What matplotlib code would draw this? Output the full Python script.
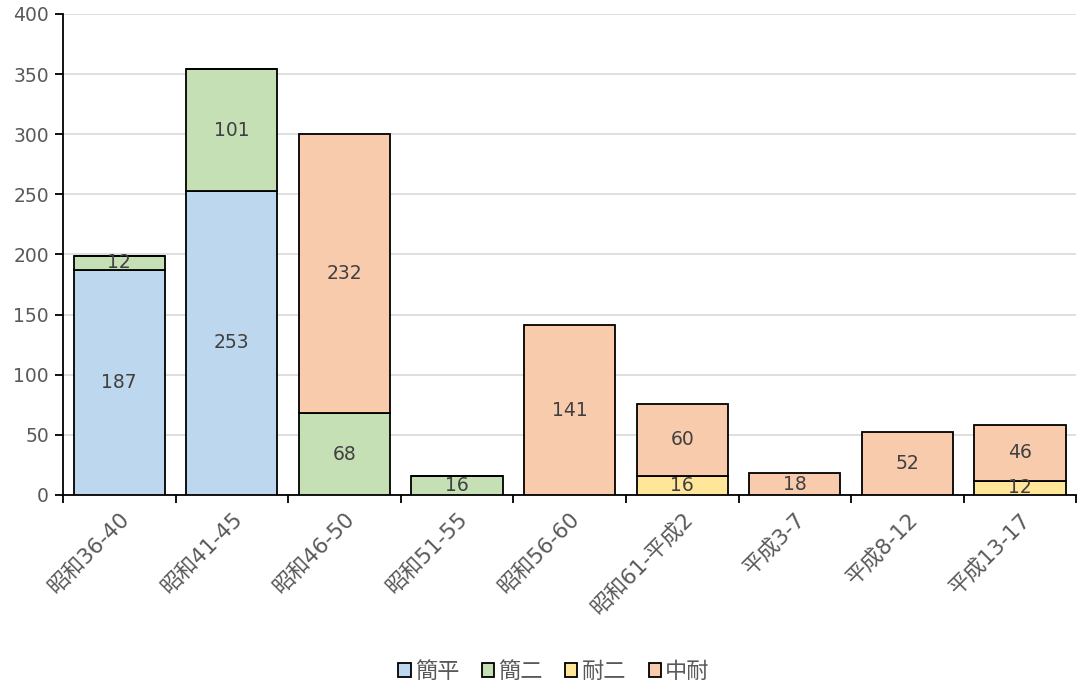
import numpy as np
import matplotlib
matplotlib.use("Agg")
import matplotlib.pyplot as plt
from matplotlib.patches import Patch

# digits from DejaVu, kanji fall through to the CJK face
plt.rcParams['font.family'] = ['DejaVu Sans', 'Noto Sans CJK JP']

periods = ['昭和36-40', '昭和41-45', '昭和46-50', '昭和51-55', '昭和56-60',
           '昭和61-平成2', '平成3-7', '平成8-12', '平成13-17']
series_names = ['簡平', '簡二', '耐二', '中耐']
kanpei = [187, 253, 0, 0, 0, 0, 0, 0, 0]
kanni = [12, 101, 68, 16, 0, 0, 0, 0, 0]
taini = [0, 0, 0, 0, 0, 16, 0, 0, 12]
chutai = [0, 0, 232, 0, 141, 60, 18, 52, 46]

colors = ['#BDD7EE', '#C5E0B4', '#FFE699', '#F8CBAD']
text_grey = '#595959'

fig = plt.figure(figsize=(10.78, 6.85), dpi=100)
ax = fig.add_axes([0.0584, 0.2774, 0.94, 0.7022])

x = np.arange(len(periods))
bottom = np.zeros(len(periods))
for vals, c in zip([kanpei, kanni, taini, chutai], colors):
    vals = np.array(vals, dtype=float)
    bars = ax.bar(x, vals, width=0.81, bottom=bottom, color=c,
                  edgecolor='black', linewidth=1.3, zorder=3)
    for b, v, b0 in zip(bars, vals, bottom):
        if v > 0:
            ax.text(b.get_x() + b.get_width() / 2, b0 + v / 2, f'{int(v)}',
                    ha='center', va='center', fontsize=13.5,
                    color='#404040', zorder=4)
    bottom += vals

ax.set_xlim(-0.5, len(periods) - 0.5)
ax.set_ylim(0, 400)
ax.set_yticks(range(0, 401, 50))
ax.yaxis.grid(True, color='#D9D9D9', linewidth=1.2, zorder=0)
ax.set_axisbelow(True)

ax.set_xticks(x)
ax.set_xticklabels(periods, rotation=45, ha='right', rotation_mode='anchor',
                   fontsize=15.5, color=text_grey)
ax.tick_params(axis='x', length=0, pad=10)
ax.set_xticks(np.arange(-0.5, len(periods), 1.0), minor=True)
ax.tick_params(axis='x', which='minor', length=6, width=1.3, color='black')
ax.tick_params(axis='y', length=6, width=1.3, labelsize=13.5,
               labelcolor=text_grey, pad=4)

for side in ['top', 'right']:
    ax.spines[side].set_visible(False)
for side in ['left', 'bottom']:
    ax.spines[side].set_linewidth(1.3)

handles = [Patch(facecolor=c, edgecolor='black', linewidth=1.3) for c in colors]
fig.legend(handles, series_names, loc='center', bbox_to_anchor=(0.514, 0.02),
           ncol=4, frameon=False, fontsize=16, handlelength=0.55,
           handleheight=0.55, handletextpad=0.2, columnspacing=1.0,
           labelcolor=text_grey)

fig.savefig('out.png', dpi=100)
